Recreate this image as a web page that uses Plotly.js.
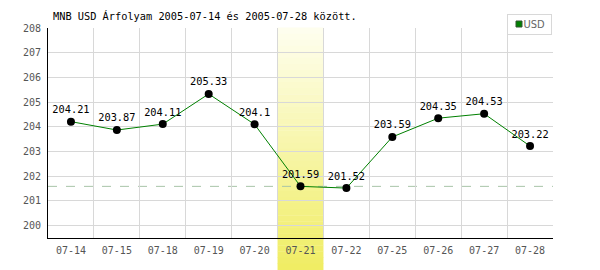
<!DOCTYPE html>
<html><head><meta charset="utf-8">
<script src="https://cdn.plot.ly/plotly-3.0.1.min.js"></script>
<style>body{margin:0;background:#fff}#c{width:600px;height:270px}</style>
</head><body><div id="c"></div>
<script>
const categories = ["07-14","07-15","07-18","07-19","07-20","07-21","07-22","07-25","07-26","07-27","07-28"];
const usdValues = [204.21,203.87,204.11,205.33,204.1,201.59,201.52,203.59,204.35,204.53,203.22];
const labels = ["204.21","203.87","204.11","205.33","204.1","201.59","201.52","203.59","204.35","204.53","203.22"];
const highlightCategory = "07-21";
const seriesName = "USD";
const titleText = "MNB USD Árfolyam 2005-07-14 és 2005-07-28 között.";

(function(){
const mono = "DejaVu Sans Mono";
const hi = categories.indexOf(highlightCategory);
const refVal = usdValues[hi];

const shapes = [];
const steps = 40;
const cTop = [254,254,238], cBot = [240,237,100];
const yBottom = -32/210;
for (let i = 0; i < steps; i++) {
  const t = i / (steps - 1);
  const c = cTop.map((v,k) => Math.round(v + (cBot[k]-v)*t));
  const y1 = 1 - (1 - yBottom) * i / steps;
  const y0 = 1 - (1 - yBottom) * (i + 1) / steps;
  shapes.push({type:'rect', xref:'x', yref:'paper', x0: hi - 0.5, x1: hi + 0.5, y0: y0, y1: y1 + 0.002,
    fillcolor:`rgb(${c[0]},${c[1]},${c[2]})`, line:{width:0}, layer:'between'});
}
shapes.push({type:'line', xref:'paper', yref:'y', x0:0, x1:1, y0:refVal, y1:refVal,
  line:{color:'#a8c4a8', width:1, dash:'dash'}, layer:'between'});
shapes.push({type:'rect', xref:'paper', yref:'paper', x0:(516-48)/505, x1:(522-48)/505,
  y0:1+(28-27)/210, y1:1+(28-21)/210, fillcolor:'#008000', line:{color:'#335533', width:1}});

const trace = {
  x: categories, y: usdValues, text: labels, name: seriesName, type:'scatter', mode:'lines+markers+text',
  line:{color:'#008000', width:1}, marker:{color:'#000', size:8},
  textposition:'top center', textfont:{family:mono, size:10.3, color:'#000'},
  cliponaxis:false, showlegend:false, hoverinfo:'none'
};

const layout = {
  width:600, height:270, margin:{l:48, r:47, t:28, b:32},
  paper_bgcolor:'#fff', plot_bgcolor:'#fff', showlegend:false,
  title:{text:titleText, font:{family:mono, size:10.3, color:'#000'}, x:53/600, xanchor:'left', xref:'container',
    y:1-16/270, yanchor:'middle', yref:'container'},
  xaxis:{type:'category', tickson:'boundaries', range:[-0.5, categories.length-0.5],
    showgrid:true, gridcolor:'#d8d8d8', gridwidth:1, showline:true, linecolor:'#000', linewidth:1,
    ticks:'', ticklabelstandoff:3, tickfont:{family:mono, size:10, color:'#555'}, zeroline:false, fixedrange:true},
  yaxis:{range:[199.5, 208], dtick:1, tick0:200, showgrid:true, gridcolor:'#d8d8d8', gridwidth:1,
    showline:true, linecolor:'#000', linewidth:1, ticks:'', ticklabelstandoff:4,
    tickfont:{family:mono, size:10, color:'#555'}, zeroline:false, fixedrange:true},
  shapes: shapes,
  annotations:[{xref:'paper', yref:'paper', x:(552-48)/505, y:1+(28-14)/210, xanchor:'right', yanchor:'top',
    text:'&nbsp;&nbsp;&nbsp;&nbsp;' + seriesName + '&nbsp;', showarrow:false, align:'left',
    font:{family:'Liberation Sans Narrow, DejaVu Sans Condensed', size:11, color:'#666'},
    bordercolor:'#d8d8d8', borderwidth:1, borderpad:3}]
};

Plotly.newPlot('c', [trace], layout, {displayModeBar:false, staticPlot:true});
})();
</script></body></html>
